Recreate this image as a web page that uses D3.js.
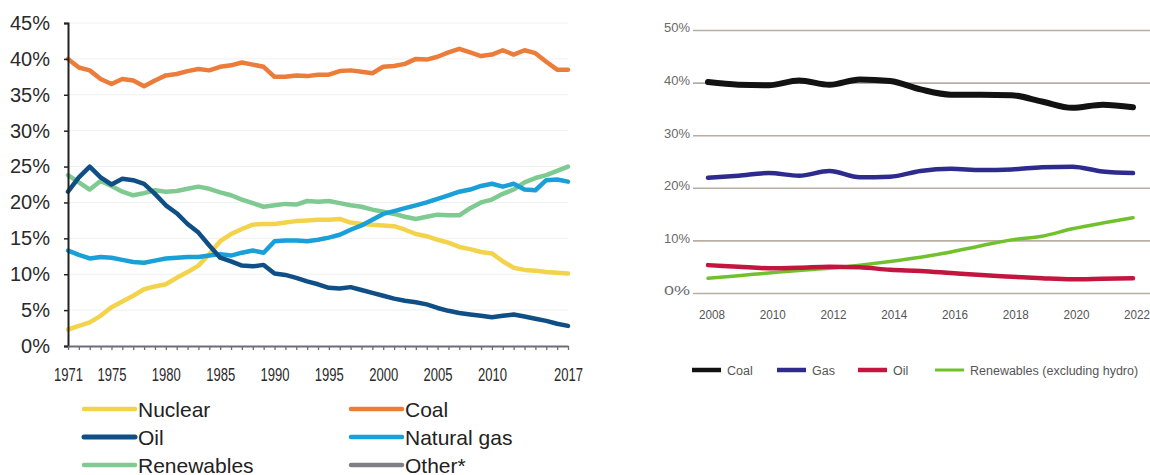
<!DOCTYPE html>
<html>
<head>
<meta charset="utf-8">
<script src="https://cdn.jsdelivr.net/npm/d3@7/dist/d3.min.js"></script>
<style>
  html, body { margin: 0; padding: 0; background: #fff; }
  svg { display: block; }
</style>
</head>
<body>
<svg id="chart" width="1150" height="475"></svg>
<script>
// ---------- Left chart data (1971-2017, % share) ----------
const yearsL = d3.range(1971, 2018);
const nuclear = [2.3,2.8,3.3,4.2,5.4,6.2,7.0,7.9,8.3,8.6,9.5,10.3,11.2,12.8,14.6,15.6,16.3,16.9,17.0,17.0,17.2,17.4,17.5,17.6,17.6,17.7,17.2,17.0,16.9,16.8,16.7,16.2,15.6,15.3,14.8,14.4,13.8,13.5,13.1,12.9,11.8,10.9,10.6,10.5,10.3,10.2,10.1];
const coal = [40.0,38.8,38.4,37.2,36.5,37.2,37.0,36.2,37.0,37.7,37.9,38.3,38.6,38.4,38.9,39.1,39.5,39.2,38.9,37.5,37.5,37.7,37.6,37.8,37.8,38.3,38.4,38.2,38.0,38.9,39.0,39.3,40.0,39.9,40.3,40.9,41.4,40.9,40.4,40.6,41.2,40.6,41.2,40.8,39.6,38.5,38.5];
const oil = [21.5,23.5,25.0,23.5,22.5,23.3,23.1,22.6,21.2,19.6,18.5,17.0,15.8,14.0,12.3,11.8,11.2,11.1,11.3,10.1,9.9,9.5,9.0,8.6,8.1,8.0,8.2,7.8,7.4,7.0,6.6,6.3,6.1,5.8,5.3,4.9,4.6,4.4,4.2,4.0,4.2,4.4,4.1,3.8,3.5,3.1,2.8];
const naturalGas = [13.3,12.7,12.2,12.4,12.3,12.0,11.7,11.6,11.9,12.2,12.3,12.4,12.4,12.6,12.8,12.6,13.0,13.3,13.0,14.6,14.7,14.7,14.6,14.8,15.1,15.5,16.2,16.8,17.6,18.4,18.8,19.2,19.6,20.0,20.5,21.0,21.5,21.8,22.3,22.6,22.2,22.6,21.8,21.7,23.1,23.2,22.9];
const renewables = [23.8,22.8,21.8,23.0,22.3,21.5,21.0,21.3,21.7,21.5,21.6,21.9,22.2,21.9,21.4,21.0,20.4,19.9,19.4,19.6,19.8,19.7,20.2,20.1,20.2,19.9,19.6,19.4,19.0,18.7,18.4,18.0,17.7,18.0,18.3,18.2,18.2,19.2,20.0,20.4,21.2,21.8,22.8,23.4,23.8,24.4,25.0];
const yTicksL = [0,5,10,15,20,25,30,35,40,45];
const xLabelsL = [1971,1975,1980,1985,1990,1995,2000,2005,2010,2017];
const legendL = ["Nuclear","Coal","Oil","Natural gas","Renewables","Other*"];

// ---------- Right chart data (2008-2022, % share) ----------
const yearsR = d3.range(2008, 2023);
const coalR = [40.1,39.6,39.5,40.4,39.6,40.6,40.3,38.7,37.7,37.7,37.6,36.4,35.2,35.8,35.3];
const gasR = [21.9,22.3,22.8,22.3,23.2,22.0,22.1,23.2,23.6,23.4,23.5,23.9,24.0,23.1,22.8];
const oilR = [5.3,5.0,4.7,4.8,5.0,4.9,4.4,4.2,3.8,3.4,3.1,2.8,2.6,2.7,2.8];
const renewR = [2.8,3.3,3.8,4.3,4.7,5.3,6.0,6.8,7.8,9.0,10.1,10.8,12.2,13.3,14.3];
const yTicksR = [0,10,20,30,40,50];
const xLabelsR = [2008,2010,2012,2014,2016,2018,2020,2022];
const legendR = ["Coal","Gas","Oil","Renewables (excluding hydro)"];

const svg = d3.select("#chart");

// ================= LEFT CHART =================
const xL = d3.scaleLinear().domain([1971, 2017]).range([68, 568]);
const yL = d3.scaleLinear().domain([0, 45]).range([346, 23]);
const gL = svg.append("g");

// faint gridlines
gL.append("g").selectAll("line").data(yTicksL.slice(1)).join("line")
  .attr("x1", xL(1971)).attr("x2", xL(2017))
  .attr("y1", d => yL(d)).attr("y2", d => yL(d))
  .attr("stroke", "#f0f0f0").attr("stroke-width", 1);

const colL = {
  "Nuclear": "#f3d34a",
  "Coal": "#ec7c3a",
  "Oil": "#0f4f85",
  "Natural gas": "#1aa0d8",
  "Renewables": "#7fca91",
  "Other*": "#7f7f86"
};
const seriesL = [
  {name: "Nuclear", values: nuclear},
  {name: "Coal", values: coal},
  {name: "Renewables", values: renewables},
  {name: "Natural gas", values: naturalGas},
  {name: "Oil", values: oil}
];
const lineL = d3.line().x((d, i) => xL(yearsL[i])).y(d => yL(d)).curve(d3.curveLinear);
gL.append("g").selectAll("path").data(seriesL).join("path")
  .attr("d", d => lineL(d.values))
  .attr("fill", "none")
  .attr("stroke", d => colL[d.name])
  .attr("stroke-width", 4.5)
  .attr("stroke-linejoin", "round")
  .attr("stroke-linecap", "round");

// y axis
const yAxisL = gL.append("g").attr("transform", `translate(${xL(1971)},0)`)
  .call(d3.axisLeft(yL).tickValues(yTicksL).tickFormat(d => d + "%").tickSize(4).tickPadding(14));
yAxisL.select(".domain").attr("stroke", "#222").attr("stroke-width", 2);
yAxisL.selectAll(".tick line").attr("stroke", "#222").attr("stroke-width", 1.5);
yAxisL.selectAll("text").attr("font-family", "Liberation Sans, Arial, sans-serif")
  .attr("font-size", 20).attr("fill", "#2a2a2a");

// x axis
const xAxisL = gL.append("g").attr("transform", `translate(0,${yL(0)})`)
  .call(d3.axisBottom(xL).tickValues(yearsL)
    .tickFormat(d => xLabelsL.includes(d) ? String(d) : "").tickSize(4).tickPadding(18).tickSizeOuter(0));
xAxisL.select(".domain").attr("stroke", "#6d6d78").attr("stroke-width", 2);
xAxisL.selectAll(".tick line").attr("stroke", "#6d6d78").attr("stroke-width", 1.3);
xAxisL.selectAll("text").attr("font-family", "Liberation Sans Narrow, Arial Narrow, sans-serif")
  .attr("font-size", 18).attr("fill", "#2a2a2a")
  .filter(function() { return this.textContent !== ""; })
  .attr("textLength", 29).attr("lengthAdjust", "spacingAndGlyphs");

// legend
const legL = gL.append("g");
const legItemsL = legendL.map((name, i) => ({name, col: i % 2, row: Math.floor(i / 2)}));
const legLX = [84, 351], legLY = [409, 437, 465];
const li = legL.selectAll("g").data(legItemsL).join("g")
  .attr("transform", d => `translate(${legLX[d.col]},${legLY[d.row]})`);
li.append("line").attr("x1", 0).attr("x2", 51).attr("y1", 0).attr("y2", 0)
  .attr("stroke", d => colL[d.name]).attr("stroke-width", d => d.name === "Oil" ? 5 : 4.5)
  .attr("stroke-linecap", "round");
li.append("text").attr("x", 54).attr("y", 7.5).text(d => d.name)
  .attr("font-family", "Liberation Sans, Arial, sans-serif").attr("font-size", 21).attr("fill", "#222");

// ================= RIGHT CHART =================
const xR = d3.scaleLinear().domain([2008, 2022]).range([708, 1133]);
const yR = d3.scaleLinear().domain([0, 50]).range([293, 30]);
const gR = svg.append("g");

const yAxisR = gR.append("g").attr("transform", "translate(693,0)")
  .call(d3.axisLeft(yR).tickValues(yTicksR).tickFormat(d => d + "%").tickSize(-(1150 - 693)).tickPadding(3));
yAxisR.select(".domain").remove();
yAxisR.selectAll(".tick line").attr("stroke", "#b8aea4").attr("stroke-width", 1.6);
yAxisR.selectAll("text").attr("font-family", "Liberation Sans Narrow, Arial Narrow, sans-serif")
  .attr("font-size", 12).attr("fill", "#6a6a6a").attr("dy", "0.15em")
  .attr("textLength", 26).attr("lengthAdjust", "spacingAndGlyphs");

const xAxisR = gR.append("g").attr("transform", `translate(0,${yR(0)})`)
  .call(d3.axisBottom(xR).tickValues(xLabelsR).tickFormat(d => String(d)).tickSize(0).tickPadding(17));
xAxisR.select(".domain").remove();
xAxisR.selectAll("text").attr("font-family", "Liberation Sans Narrow, Arial Narrow, sans-serif")
  .attr("font-size", 12).attr("fill", "#555").attr("dx", "0.3em")
  .attr("textLength", 26).attr("lengthAdjust", "spacingAndGlyphs");

const colR = {
  "Coal": "#121212",
  "Gas": "#2d2b8e",
  "Oil": "#c2163f",
  "Renewables (excluding hydro)": "#71c12f"
};
const widthR = {
  "Coal": 6,
  "Gas": 4.5,
  "Oil": 4.5,
  "Renewables (excluding hydro)": 3.5
};
const seriesR = [
  {name: "Renewables (excluding hydro)", values: renewR},
  {name: "Oil", values: oilR},
  {name: "Gas", values: gasR},
  {name: "Coal", values: coalR}
];
const lineR = d3.line().x((d, i) => xR(yearsR[i])).y(d => yR(d)).curve(d3.curveMonotoneX);
gR.append("g").selectAll("path").data(seriesR).join("path")
  .attr("d", d => lineR(d.values))
  .attr("fill", "none")
  .attr("stroke", d => colR[d.name])
  .attr("stroke-width", d => widthR[d.name])
  .attr("stroke-linejoin", "round")
  .attr("stroke-linecap", "round");

// legend right
const legRX = [692, 777, 858, 935];
const lr = gR.append("g").selectAll("g").data(legendR).join("g")
  .attr("transform", (d, i) => `translate(${legRX[i]},370)`);
lr.append("line").attr("x1", 0).attr("x2", 29).attr("y1", 0).attr("y2", 0)
  .attr("stroke", d => colR[d]).attr("stroke-width", d => d === "Renewables (excluding hydro)" ? 3 : 4.5);
lr.append("text").attr("x", 35).attr("y", 4.5).text(d => d)
  .attr("font-family", "Liberation Sans Narrow, Arial Narrow, sans-serif")
  .attr("font-size", 12.5).attr("fill", "#555");
</script>
</body>
</html>
